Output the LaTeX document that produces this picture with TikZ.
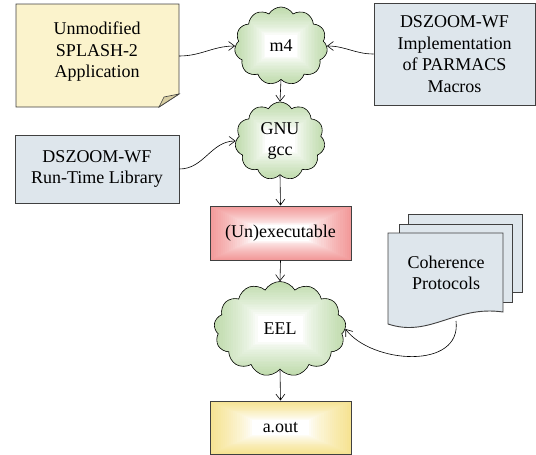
\documentclass[tikz,border=0pt]{standalone}
\usepackage{fontspec}
\setmainfont{Liberation Serif}
\usetikzlibrary{shapes.symbols,arrows.meta,calc}
\definecolor{splashfill}{HTML}{FBF3CC}
\definecolor{foldfill}{HTML}{D8CEA2}
\definecolor{bluegrey}{HTML}{DEE6EC}
\definecolor{pinkred}{HTML}{F29A9A}
\definecolor{yellowglow}{HTML}{F6E392}
\definecolor{cloudgreen}{HTML}{BFDBAC}
\definecolor{edgegray}{HTML}{404040}
\tikzset{
  every node/.style={font=\fontsize{18}{21.5}\selectfont, align=center},
  glow/.style n args={3}{path picture={
    \path (path picture bounding box.south west) coordinate (ppsw)
          (path picture bounding box.north east) coordinate (ppne);
    \foreach \k in {0,...,20}{
      \pgfmathtruncatemacro\pct{100*(1-\k/20)^0.75}
      \fill[#1!\pct!white] let \p1=(ppsw), \p2=(ppne),
        \n1={#2*(\x2-\x1)*\k/20}, \n2={#3*(\y2-\y1)*\k/20} in
        (\x1+\n1,\y1+\n2) rectangle (\x2-\n1,\y2-\n2);
    }
  }},
  boxnode/.style={draw=edgegray, line width=0.9pt, rectangle},
  cloudnode/.style={cloud, cloud puffs=#1, cloud puff arc=120, cloud ignores aspect,
    draw=black, line width=0.6pt, glow={cloudgreen}{0.33}{0.36}},
  conn/.style={line width=0.6pt, -{Straight Barb[length=6pt,width=9pt]}},
}
\begin{document}
\begin{tikzpicture}[x=1pt,y=-1pt]
\useasboundingbox (0,0) rectangle (536,455);

% SPLASH-2 folded note
\draw[edgegray, line width=0.9pt, fill=splashfill]
  (16,4) -- (179,4) -- (179,94) -- (159,107) -- (16,107) -- cycle;
\draw[edgegray, line width=0.6pt, fill=foldfill]
  (159,107) .. controls (161,102) .. (164,97) -- (179,94) -- cycle;
\node[minimum width=163pt, minimum height=103pt, inner sep=0pt] (splash) at (97.5,55.5) {};
\node (splashtext) at (97,52) {Unmodified\\SPLASH-2\\Application};

% Implementation box
\node[boxnode, fill=bluegrey, minimum width=161pt, minimum height=102pt] (impl) at (454.5,54)
  {DSZOOM-WF\\Implementation\\of PARMACS\\Macros};

% Run-time box
\node[boxnode, fill=bluegrey, minimum width=164pt, minimum height=68pt] (rt) at (97,169)
  {DSZOOM-WF\\Run-Time Library};

% clouds
\node[cloudnode=11, minimum width=93pt, minimum height=78pt] (m4) at (281,46) {m4};
\node[cloudnode=11, minimum width=90pt, minimum height=78pt] (gnu) at (280,141) {GNU\\gcc};
\node[cloudnode=13, minimum width=132pt, minimum height=95pt] (eel) at (280,329) {EEL};

% executable & a.out
\node[boxnode, glow={pinkred}{0.3}{0.36}, minimum width=141pt, minimum height=54pt] (unexec) at (280.5,233) {(Un)executable};
\node[boxnode, glow={yellowglow}{0.3}{0.36}, minimum width=141pt, minimum height=53pt] (aout) at (280.5,427.5) {a.out};

% Coherence protocols stack
\draw[edgegray, line width=0.9pt, fill=bluegrey] (408,214) rectangle (522,292);
\draw[edgegray, line width=0.9pt, fill=bluegrey] (399,224) rectangle (512,302);
\draw[edgegray, line width=0.9pt, fill=bluegrey]
  (388,233) -- (503,233) -- (503,312) .. controls (455,305) and (430,338) .. (388,324) -- cycle;
\node (coh) at (446,273) {Coherence\\Protocols};
\coordinate (cohout) at (456,321);

% connectors
\draw[conn] (splash.east) ++(0,0.5) to[out=0,in=180] (m4.west);
\draw[conn] (impl.west) to[out=180,in=0] (m4.east);
\draw[conn] (rt.east) to[out=0,in=180] (gnu.west);
\draw[conn] (m4.south) -- (gnu.north);
\draw[conn] (gnu.south) -- (unexec.north);
\draw[conn] (unexec.south) -- (eel.north);
\draw[conn] (eel.south) -- (aout.north);
\draw[conn] (cohout) .. controls (462,370) and (372,364) .. (eel.east);
\end{tikzpicture}
\end{document}
